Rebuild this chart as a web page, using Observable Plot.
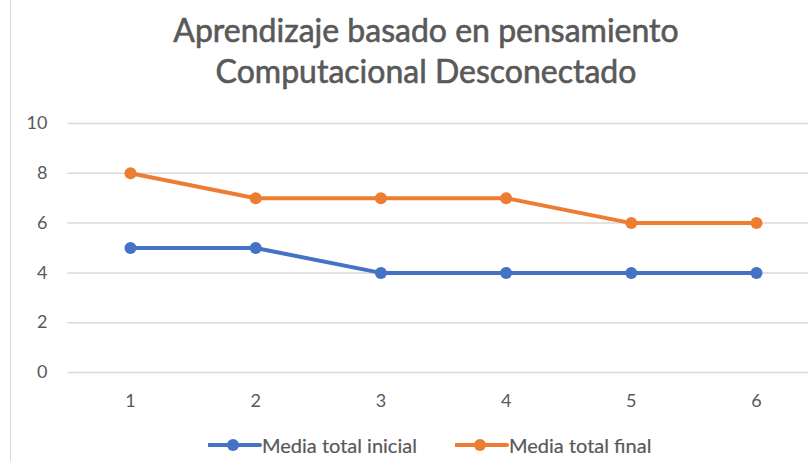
<!DOCTYPE html>
<html>
<head>
<meta charset="utf-8">
<script src="https://cdn.jsdelivr.net/npm/d3@7"></script>
<script src="https://cdn.jsdelivr.net/npm/@observablehq/plot@0.6"></script>
<style>
  html, body { margin: 0; padding: 0; background: #fff; }
  body { width: 808px; height: 461px; position: relative; overflow: hidden; font-family: Lato, "Open Sans", sans-serif; color: #595959; }
  #border { position: absolute; left: 10px; top: 0; width: 0; height: 461px; border-left: 1.5px solid #d9d9d9; }
  #title { position: absolute; left: 0; top: 9px; width: 852px; text-align: center; font-size: 32px; line-height: 41px; color: #595959; -webkit-text-stroke: 0.6px #595959; }
  #chart { position: absolute; left: 0; top: 105px; }
  .item { position: absolute; top: 433px; display: flex; align-items: center; white-space: nowrap; font-size: 20px; line-height: 24px; color: #595959; -webkit-text-stroke: 0.2px #595959; }
  .item svg { display: block; }
</style>
</head>
<body>
<div id="border"></div>
<div id="title">Aprendizaje basado en pensamiento<br>Computacional Desconectado</div>
<div id="chart"></div>
<script>
const categories = [1, 2, 3, 4, 5, 6];
const mediaInicial = [5, 5, 4, 4, 4, 4];
const mediaFinal = [8, 7, 7, 7, 6, 6];
const yTicks = [0, 2, 4, 6, 8, 10];
const seriesNames = ["Media total inicial", "Media total final"];
const seriesColors = ["#4472C4", "#ED7D31"];

const data = [
  ...categories.map((c, i) => ({x: c, y: mediaInicial[i], s: seriesNames[0]})),
  ...categories.map((c, i) => ({x: c, y: mediaFinal[i], s: seriesNames[1]}))
];

const chart = Plot.plot({
  width: 808,
  height: 320,
  marginTop: 18,
  marginBottom: 53,
  marginLeft: 67,
  marginRight: 0,
  style: {fontFamily: "Lato, 'Open Sans', sans-serif", fontSize: "18px", color: "#595959", background: "transparent", overflow: "visible"},
  x: {domain: [0.5, 6.5], range: [67.4, 818.6], label: null},
  y: {domain: [0, 10], label: null},
  color: {domain: seriesNames, range: seriesColors},
  marks: [
    Plot.ruleY(yTicks, {x1: 0.5, x2: 6.5, stroke: "#d9d9d9", strokeWidth: 1.5}),
    Plot.axisY({ticks: yTicks, tickSize: 0, tickPadding: 20, fill: "#595959", fontSize: 18, label: null}),
    Plot.axisX({ticks: categories, tickFormat: d => String(d), tickSize: 0, tickPadding: 22, fill: "#595959", fontSize: 18, label: null}),
    Plot.line(data, {x: "x", y: "y", z: "s", stroke: "s", strokeWidth: 4, strokeLinejoin: "round", strokeLinecap: "round"}),
    Plot.dot(data, {x: "x", y: "y", fill: "s", r: 6})
  ]
});
document.getElementById("chart").appendChild(chart);

const lefts = [208, 455];
seriesNames.forEach((name, i) => {
  const item = document.createElement("div");
  item.className = "item";
  item.style.left = lefts[i] + "px";
  item.innerHTML = `<svg width="54" height="16"><line x1="1" y1="8" x2="52" y2="8" stroke="${seriesColors[i]}" stroke-width="4" stroke-linecap="round"/><circle cx="25" cy="8" r="6" fill="${seriesColors[i]}"/></svg><span>${name}</span>`;
  document.body.appendChild(item);
});
</script>
</body>
</html>
